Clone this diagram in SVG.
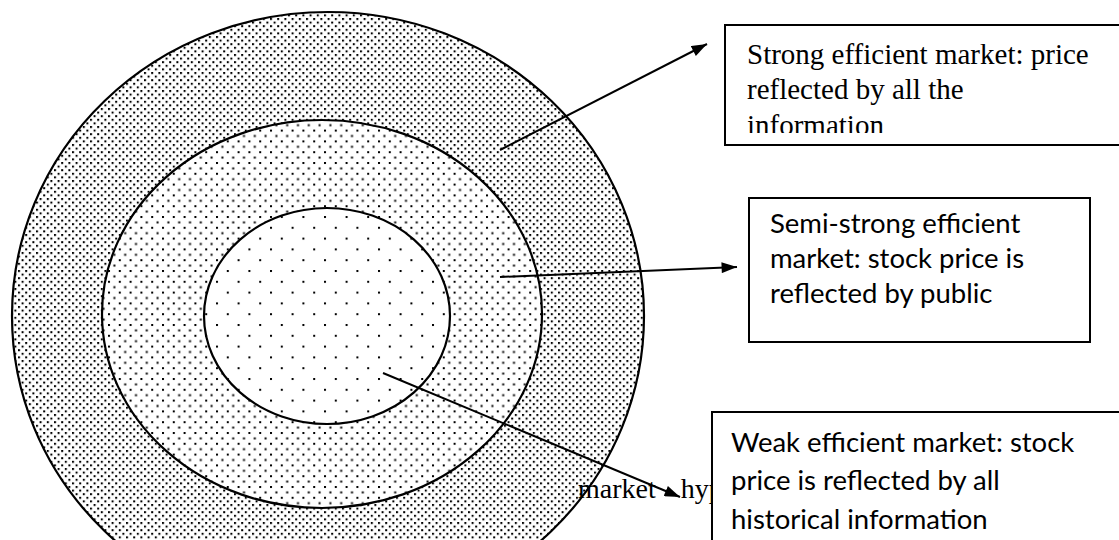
<svg xmlns="http://www.w3.org/2000/svg" width="1119" height="540" viewBox="0 0 1119 540">
<style>
.ring{stroke:#000;stroke-width:2.2}
.box{fill:#fff;stroke:#000;stroke-width:2}
.conn{stroke:#000;stroke-width:2;fill:none}
.serif{font-family:"Liberation Serif","Times New Roman",serif;font-size:29px;fill:#000}
.sans{font-family:Lato,"Open Sans",sans-serif;font-size:27.5px;fill:#000}
.dot{fill:#000}
</style>
<defs>
<pattern id="pOuter" width="7.2" height="7.2" patternUnits="userSpaceOnUse">
<rect width="7.2" height="7.2" fill="#fff"/>
<rect class="dot" x="0" y="0" width="2" height="2"/>
<rect class="dot" x="3.6" y="3.6" width="2" height="2"/>
</pattern>
<pattern id="pMiddle" width="10.8" height="10.8" patternUnits="userSpaceOnUse">
<rect width="10.8" height="10.8" fill="#fff"/>
<rect class="dot" x="0" y="0" width="2" height="2"/>
<rect class="dot" x="5.4" y="5.4" width="2" height="2"/>
</pattern>
<pattern id="pInner" width="21.6" height="21.6" patternUnits="userSpaceOnUse">
<rect width="21.6" height="21.6" fill="#fff"/>
<rect class="dot" x="0" y="0" width="2" height="2"/>
<rect class="dot" x="10.8" y="10.8" width="2" height="2"/>
</pattern>
<marker id="arr" viewBox="0 0 14 10" refX="14" refY="5" markerWidth="16" markerHeight="11" markerUnits="userSpaceOnUse" orient="auto">
<path d="M0,0 L14,5 L0,10 z" fill="#000"/>
</marker>
<clipPath id="clipStrong"><rect x="725" y="25" width="400" height="108"/></clipPath>
</defs>

<g id="rings">
<ellipse id="strong-ring" class="ring" cx="328" cy="316" rx="316" ry="304" fill="url(#pOuter)"/>
<ellipse id="semi-ring" class="ring" cx="322" cy="314" rx="220" ry="194" fill="url(#pMiddle)"/>
<ellipse id="weak-ring" class="ring" cx="327" cy="316" rx="123" ry="108" fill="url(#pInner)"/>
</g>

<text class="serif" x="578" y="498" style="font-size:28px;word-spacing:18px">market hyp</text>

<g id="connectors">
<line class="conn" x1="500" y1="150" x2="707" y2="44" marker-end="url(#arr)"/>
<line class="conn" x1="500" y1="277" x2="737" y2="267" marker-end="url(#arr)"/>
<line class="conn" x1="383" y1="373" x2="680" y2="497" marker-end="url(#arr)"/>
</g>

<g id="strong-box">
<rect class="box" x="725" y="25" width="400" height="120"/>
<g clip-path="url(#clipStrong)">
<text class="serif" x="747" y="64">Strong efficient market: price</text>
<text class="serif" x="747" y="99">reflected by all the</text>
<text class="serif" x="747" y="135">information</text>
</g>
</g>

<g id="semi-box">
<rect class="box" x="749" y="198" width="341" height="144"/>
<text class="sans" x="770" y="233">Semi-strong efficient</text>
<text class="sans" x="770" y="268">market: stock price is</text>
<text class="sans" x="770" y="303">reflected by public</text>
</g>

<g id="weak-box">
<rect class="box" x="712" y="412" width="413" height="140"/>
<text class="sans" x="731" y="452">Weak efficient market: stock</text>
<text class="sans" x="731" y="490">price is reflected by all</text>
<text class="sans" x="731" y="529">historical information</text>
</g>
</svg>
